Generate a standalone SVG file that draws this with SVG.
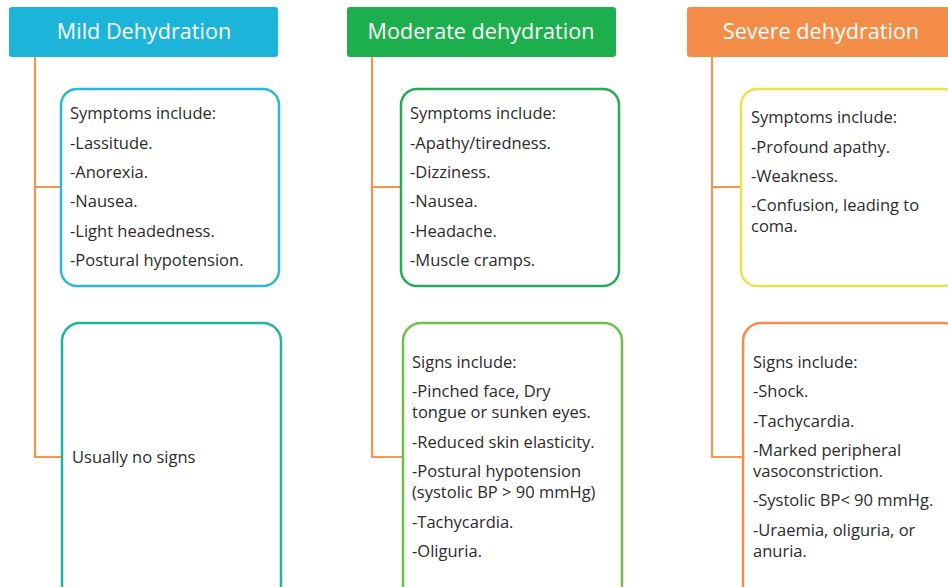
<svg xmlns="http://www.w3.org/2000/svg" width="948" height="587" viewBox="0 0 948 587">
<style>
.hdr{font-family:"Open Sans","Liberation Sans",sans-serif;font-size:21.6px;fill:#ffffff;text-anchor:middle}
.t{font-family:"Open Sans","Liberation Sans",sans-serif;font-size:16.5px;fill:#2b2b2b}
.box{fill:#ffffff;stroke-width:2.5}
.conn{fill:none;stroke:#F5944D;stroke-width:2.2}
</style>
<rect width="948" height="587" fill="#ffffff"/>
<g id="connectors">
<path class="conn" d="M35 57 V457 H62 M35 187 H61"/>
<path class="conn" d="M372 57 V457 H403 M372 187 H401"/>
<path class="conn" d="M712 57 V457 H743 M712 187 H741"/>
</g>
<g id="mild-header">
<rect x="9" y="7" width="269" height="50" rx="3" fill="#1CB4D8"/>
<text class="hdr" x="144" y="39">Mild Dehydration</text>
</g>
<g id="moderate-header">
<rect x="347" y="7" width="269" height="50" rx="3" fill="#1DAE4D"/>
<text class="hdr" x="481" y="39">Moderate dehydration</text>
</g>
<g id="severe-header">
<rect x="687" y="7" width="270" height="50" rx="3" fill="#F38D47"/>
<text class="hdr" x="821" y="39">Severe dehydration</text>
</g>
<g id="mild-symptoms">
<rect class="box" x="61" y="89" width="218" height="197" rx="16" stroke="#2EB5DA"/>
<text class="t" x="70" y="119">Symptoms include:</text>
<text class="t" x="70" y="149">-Lassitude.</text>
<text class="t" x="70" y="178">-Anorexia.</text>
<text class="t" x="70" y="207">-Nausea.</text>
<text class="t" x="70" y="237">-Light headedness.</text>
<text class="t" x="70" y="266">-Postural hypotension.</text>
</g>
<g id="mild-signs">
<rect class="box" x="62" y="323" width="219" height="280" rx="18" stroke="#1DB4A2"/>
<text class="t" x="72" y="463">Usually no signs</text>
</g>
<g id="moderate-symptoms">
<rect class="box" x="401" y="89" width="218" height="197" rx="16" stroke="#29AA58"/>
<text class="t" x="410" y="119">Symptoms include:</text>
<text class="t" x="410" y="149">-Apathy/tiredness.</text>
<text class="t" x="410" y="178">-Dizziness.</text>
<text class="t" x="410" y="207">-Nausea.</text>
<text class="t" x="410" y="237">-Headache.</text>
<text class="t" x="410" y="266">-Muscle cramps.</text>
</g>
<g id="moderate-signs">
<rect class="box" x="403" y="323" width="219" height="280" rx="18" stroke="#6DBF48"/>
<text class="t" x="412" y="368">Signs include:</text>
<text class="t" x="412" y="397">-Pinched face, Dry</text>
<text class="t" x="412" y="418">tongue or sunken eyes.</text>
<text class="t" x="412" y="448">-Reduced skin elasticity.</text>
<text class="t" x="412" y="477">-Postural hypotension</text>
<text class="t" x="412" y="498">(systolic BP &gt; 90 mmHg)</text>
<text class="t" x="412" y="528">-Tachycardia.</text>
<text class="t" x="412" y="557">-Oliguria.</text>
</g>
<g id="severe-symptoms">
<rect class="box" x="741" y="89" width="218" height="197" rx="16" stroke="#EEE24A"/>
<text class="t" x="751" y="123">Symptoms include:</text>
<text class="t" x="751" y="153">-Profound apathy.</text>
<text class="t" x="751" y="182">-Weakness.</text>
<text class="t" x="751" y="211">-Confusion, leading to</text>
<text class="t" x="751" y="232">coma.</text>
</g>
<g id="severe-signs">
<rect class="box" x="743" y="323" width="219" height="280" rx="18" stroke="#F38D47"/>
<text class="t" x="753" y="368">Signs include:</text>
<text class="t" x="753" y="397">-Shock.</text>
<text class="t" x="753" y="427">-Tachycardia.</text>
<text class="t" x="753" y="456">-Marked peripheral</text>
<text class="t" x="753" y="477">vasoconstriction.</text>
<text class="t" x="753" y="506">-Systolic BP&lt; 90 mmHg.</text>
<text class="t" x="753" y="536">-Uraemia, oliguria, or</text>
<text class="t" x="753" y="557">anuria.</text>
</g>
</svg>
